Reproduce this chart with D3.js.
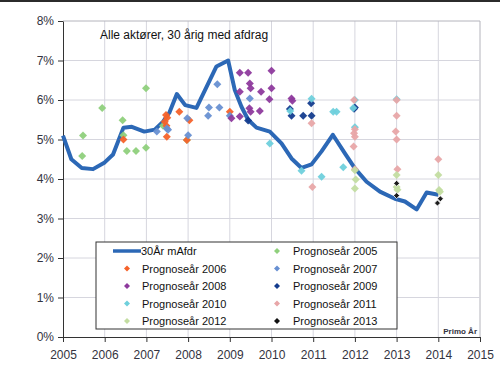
<!DOCTYPE html>
<html>
<head>
<meta charset="utf-8">
<script src="https://cdn.jsdelivr.net/npm/d3@7"></script>
<style>
  body { margin: 0; background: #fff; }
  svg { display: block; font-family: "Liberation Sans", Arial, sans-serif; }
</style>
</head>
<body>
<div id="vis"></div>
<script>
// set constants
const FRAME_WIDTH = 500;
const FRAME_HEIGHT = 385;
const PLOT = {left: 63, right: 480, top: 21, bottom: 337};

// data: [year, percent]
const X_TICKS = [2005, 2006, 2007, 2008, 2009, 2010, 2011, 2012, 2013, 2014, 2015];
const Y_TICKS = [0, 1, 2, 3, 4, 5, 6, 7, 8];

const RATE_30 = [
  [2005.0, 5.1], [2005.2, 4.5], [2005.45, 4.28], [2005.72, 4.25], [2006.0, 4.42],
  [2006.2, 4.62], [2006.45, 5.3], [2006.65, 5.32], [2006.95, 5.2], [2007.2, 5.25],
  [2007.4, 5.45], [2007.55, 5.68], [2007.73, 6.15], [2007.93, 5.87], [2008.2, 5.8],
  [2008.68, 6.85], [2008.96, 7.0], [2009.12, 6.25], [2009.28, 5.83], [2009.44, 5.5],
  [2009.64, 5.3], [2009.96, 5.2], [2010.24, 4.9], [2010.48, 4.52], [2010.72, 4.28],
  [2010.96, 4.37], [2011.2, 4.7], [2011.47, 5.12], [2011.76, 4.65], [2012.0, 4.27],
  [2012.28, 3.93], [2012.6, 3.68], [2012.96, 3.5], [2013.2, 3.43], [2013.48, 3.23],
  [2013.72, 3.66], [2014.0, 3.6]
];

const PROG_2005 = [[2005.48, 5.1], [2005.46, 4.58], [2005.94, 5.8], [2006.43, 5.49], [2006.45, 5.11],
  [2006.53, 4.71], [2006.75, 4.71], [2006.99, 4.79], [2006.99, 6.3], [2007.4, 5.35], [2007.97, 4.99]];
const PROG_2006 = [[2006.45, 5.0], [2007.47, 5.62], [2007.5, 5.55], [2007.44, 5.45], [2007.48, 5.35],
  [2007.49, 5.07], [2007.79, 5.7], [2008.03, 5.49], [2007.97, 4.99], [2009.0, 5.7]];
const PROG_2007 = [[2007.25, 5.2], [2007.49, 5.28], [2007.52, 5.25], [2007.98, 5.54], [2008.0, 5.11],
  [2008.5, 5.81], [2008.48, 5.6], [2008.75, 5.81], [2008.7, 6.4], [2009.0, 5.6], [2009.48, 6.04]];
const PROG_2008 = [[2009.24, 6.69], [2009.44, 6.69], [2010.0, 6.74], [2009.48, 6.42], [2009.5, 6.3],
  [2009.24, 6.21], [2009.75, 6.21], [2010.0, 6.3], [2009.95, 6.02], [2009.47, 5.79], [2009.5, 5.7],
  [2009.72, 5.72], [2009.24, 5.58], [2009.04, 5.54], [2010.48, 6.04], [2010.5, 5.98]];
const PROG_2009 = [[2009.44, 5.48], [2010.44, 5.77], [2010.48, 5.6], [2010.76, 5.6], [2010.96, 5.6],
  [2010.95, 5.92], [2012.0, 5.81], [2011.98, 5.78]];
const PROG_2010 = [[2009.96, 4.9], [2010.72, 4.21], [2011.2, 4.06], [2011.72, 4.3], [2012.0, 5.31],
  [2010.96, 6.03], [2011.48, 5.7], [2011.56, 5.7], [2011.96, 5.8], [2012.0, 6.0], [2013.0, 6.02], [2010.45, 5.72]];
const PROG_2011 = [[2010.96, 5.41], [2010.98, 3.8], [2011.98, 6.0], [2012.0, 5.26], [2011.98, 5.16],
  [2012.0, 5.07], [2011.97, 4.82], [2012.0, 4.25], [2013.0, 6.0], [2013.0, 5.6], [2012.98, 5.2],
  [2013.0, 5.0], [2013.02, 4.25], [2014.0, 4.5]];
const PROG_2012 = [[2012.0, 4.22], [2012.02, 3.99], [2012.0, 3.76], [2013.0, 4.1], [2013.0, 3.8],
  [2013.02, 3.73], [2014.0, 4.1], [2014.02, 3.72], [2014.04, 3.68]];
const PROG_2013 = [[2013.0, 3.89], [2013.0, 3.58], [2014.05, 3.5], [2013.98, 3.39]];

const SERIES = [
  {name: "Prognoseår 2005", color: "#8fd07c", data: PROG_2005},
  {name: "Prognoseår 2006", color: "#f5622a", data: PROG_2006},
  {name: "Prognoseår 2007", color: "#6890d2", data: PROG_2007},
  {name: "Prognoseår 2008", color: "#8e3a9d", data: PROG_2008},
  {name: "Prognoseår 2009", color: "#143c8e", data: PROG_2009},
  {name: "Prognoseår 2010", color: "#6fd0dc", data: PROG_2010},
  {name: "Prognoseår 2011", color: "#e8a6a8", data: PROG_2011},
  {name: "Prognoseår 2012", color: "#c3dda1", data: PROG_2012},
  {name: "Prognoseår 2013", color: "#111111", data: PROG_2013}
];

const FRAME = d3.select("#vis")
  .append("svg")
    .attr("width", FRAME_WIDTH)
    .attr("height", FRAME_HEIGHT);

// top frame line
FRAME.append("rect")
  .attr("x", 0).attr("y", 0)
  .attr("width", FRAME_WIDTH).attr("height", 2)
  .attr("fill", "#2b2b2b");

const X_SCALE = d3.scaleLinear().domain([2005, 2015]).range([PLOT.left, PLOT.right]);
const Y_SCALE = d3.scaleLinear().domain([0, 8]).range([PLOT.bottom, PLOT.top]);

// gridlines
FRAME.append("g")
  .selectAll("line")
  .data(X_TICKS.slice(1))
  .enter()
  .append("line")
    .attr("x1", d => X_SCALE(d)).attr("x2", d => X_SCALE(d))
    .attr("y1", PLOT.top).attr("y2", PLOT.bottom)
    .attr("stroke", d => d === 2015 ? "#b4b4bc" : "#d6d6de")
    .attr("stroke-width", 1);

FRAME.append("g")
  .selectAll("line")
  .data(Y_TICKS.slice(1))
  .enter()
  .append("line")
    .attr("x1", PLOT.left).attr("x2", PLOT.right)
    .attr("y1", d => Y_SCALE(d)).attr("y2", d => Y_SCALE(d))
    .attr("stroke", d => d === 8 ? "#b4b4bc" : "#d6d6de")
    .attr("stroke-width", 1);

// axes
const xAxis = FRAME.append("g")
  .attr("transform", "translate(0," + PLOT.bottom + ")")
  .call(d3.axisBottom(X_SCALE).tickValues(X_TICKS).tickFormat(d3.format("d")).tickSize(5).tickSizeOuter(0))
  .attr("font-size", "12px");
xAxis.selectAll("text").attr("fill", "#333340").attr("dy", "1.15em")
  .attr("font-family", "Liberation Sans, Arial, sans-serif");
xAxis.selectAll("line, path").attr("stroke", "#333");

const yAxis = FRAME.append("g")
  .attr("transform", "translate(" + PLOT.left + ",0)")
  .call(d3.axisLeft(Y_SCALE).tickValues(Y_TICKS).tickFormat(d => d + "%").tickSize(5).tickSizeOuter(0))
  .attr("font-size", "12px");
yAxis.selectAll("text").attr("fill", "#333340").attr("x", -9)
  .attr("font-family", "Liberation Sans, Arial, sans-serif");
yAxis.selectAll("line, path").attr("stroke", "#333");

// title
FRAME.append("text")
  .attr("x", 100).attr("y", 39)
  .attr("font-size", "12px")
  .attr("fill", "#111")
  .text("Alle aktører, 30 årig med afdrag");

// main rate line
const line = d3.line()
  .x(d => X_SCALE(d[0]))
  .y(d => Y_SCALE(d[1]));

FRAME.append("path")
  .datum(RATE_30)
  .attr("d", line)
  .attr("fill", "none")
  .attr("stroke", "#2c68b6")
  .attr("stroke-width", 4)
  .attr("stroke-linejoin", "round");

function diamond(r) {
  return "M0," + (-r) + "L" + r + ",0L0," + r + "L" + (-r) + ",0Z";
}

// forecast points
SERIES.forEach(s => {
  const g = FRAME.append("g");
  g.selectAll("path")
    .data(s.data)
    .enter()
    .append("path")
      .attr("transform", d => "translate(" + X_SCALE(d[0]) + "," + Y_SCALE(d[1]) + ")")
      .attr("d", s.name.endsWith("2013") ? diamond(3) : diamond(4))
      .attr("fill", s.color)
      .attr("stroke", s.name.endsWith("2013") ? "#ffffff" : "none")
      .attr("stroke-width", 0.8)
      .attr("opacity", 0.95);
});

// legend
const LEG = {x: 96, y: 242, w: 301, h: 87};
FRAME.append("rect")
  .attr("x", LEG.x).attr("y", LEG.y)
  .attr("width", LEG.w).attr("height", LEG.h)
  .attr("fill", "#fff")
  .attr("stroke", "#333")
  .attr("stroke-width", 1);

const legendItems = [{name: "30År mAfdr", line: true}].concat(SERIES);
const rowY = i => 251 + Math.floor(i / 2) * 17.5;
legendItems.forEach((item, i) => {
  const col = i % 2;
  const y = rowY(i);
  const mx = col === 0 ? 127 : 277;
  const tx = col === 0 ? 142 : 293;
  if (item.line) {
    FRAME.append("line")
      .attr("x1", 113).attr("x2", 141)
      .attr("y1", y).attr("y2", y)
      .attr("stroke", "#2c68b6")
      .attr("stroke-width", 3.5);
    FRAME.append("text")
      .attr("x", 141).attr("y", y + 4)
      .attr("font-size", "11px").attr("fill", "#111")
      .text(item.name);
  } else {
    FRAME.append("path")
      .attr("transform", "translate(" + mx + "," + y + ")")
      .attr("d", diamond(3))
      .attr("fill", item.color);
    FRAME.append("text")
      .attr("x", tx).attr("y", y + 4)
      .attr("font-size", "11px").attr("fill", "#111")
      .text(item.name);
  }
});

// primo label
FRAME.append("text")
  .attr("x", 477).attr("y", 334)
  .attr("text-anchor", "end")
  .attr("font-size", "8px")
  .attr("font-weight", "bold")
  .attr("fill", "#333340")
  .text("Primo År");
</script>
</body>
</html>
